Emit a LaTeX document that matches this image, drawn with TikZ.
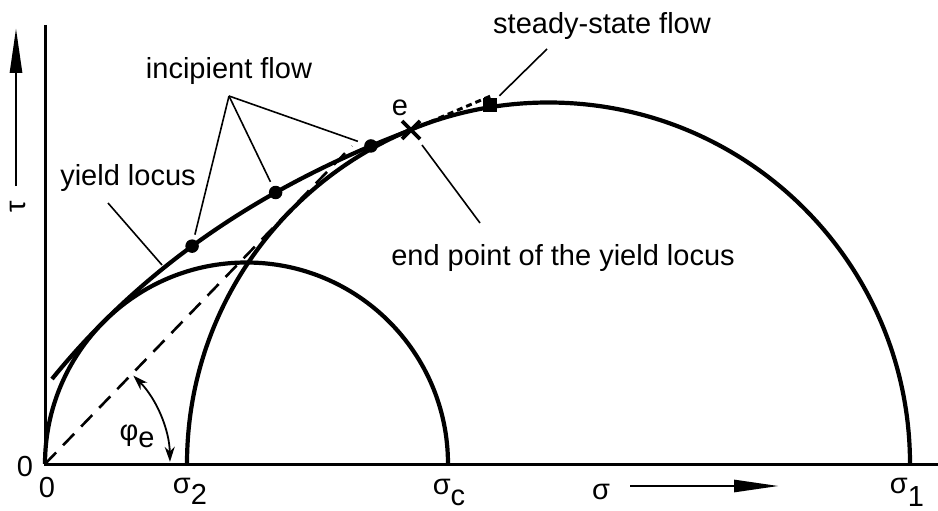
\documentclass[tikz,border=0pt]{standalone}
\usepackage{fontspec}
\setmainfont{Liberation Sans}
\usetikzlibrary{arrows.meta}
\begin{document}
\begin{tikzpicture}[x=1pt,y=-1pt,
  lbl/.style={font=\fontsize{29}{34}\selectfont, inner sep=0pt, anchor=base},
  curve/.style={line width=4.2pt},
  axis/.style={line width=3pt},
  leader/.style={line width=1.6pt},
  dotm/.style={circle, fill=black, inner sep=0pt, minimum size=13.5pt},
  sqm/.style={rectangle, fill=black, inner sep=0pt, minimum size=14pt},
  bigarrow/.style={line width=2.8pt, -{Triangle[length=45pt,width=12pt]}},
  angarrow/.style={line width=1.8pt, {Stealth[length=15pt,width=10pt]}-{Stealth[length=15pt,width=10pt]}},
  tangent/.style={line width=2.6pt, dash pattern=on 16pt off 10pt},
  extdash/.style={line width=3pt, dash pattern=on 6pt off 4pt}]
\useasboundingbox (0,0) rectangle (938,511);
% axes
\coordinate (O) at (45,464);
\coordinate (ytop) at (45,25);
\coordinate (xend) at (938,464);
\draw[axis] (ytop) -- (O) -- (xend);
% Mohr circles
\coordinate (s2) at (187,464);
\draw[curve] (O) arc[start angle=180, end angle=0, radius=201.5pt] coordinate (sc);
\draw[curve] (s2) arc[start angle=180, end angle=0, radius=361.5pt] coordinate (s1);
% tangent dashed line
\coordinate (tend) at (352,146);
\draw[tangent] (O) -- (tend);
% yield locus
\coordinate (ys) at (52,379);
\coordinate (e) at (411,130);
\draw[curve] (ys) .. controls (140.7,269.7) and (259.7,186.7) .. (e)
  node[dotm, pos=0.455] (d1) {}
  node[dotm, pos=0.68] (d2) {}
  node[dotm, pos=0.91] (d3) {};
% extension to steady state
\coordinate (extend) at (493,95);
\draw[extdash] (e) -- (extend);
\node[sqm] (ss) at (490,105) {};
% end point cross
\draw[line width=3.6pt] (402,121) -- (420,139) (402,139) -- (420,121);
% angle
\draw[angarrow] ([shift={(1:125pt)}]O) arc[start angle=1, end angle=45, radius=125pt];
% arrows
\coordinate (tauA) at (16,186);
\coordinate (tauB) at (16,28);
\draw[bigarrow] (tauA) -- (tauB);
\coordinate (sigA) at (630,486);
\coordinate (sigB) at (779,486);
\draw[bigarrow] (sigA) -- (sigB);
% labels
\node[lbl] (inc) at (229,79) {incipient flow};
\node[lbl] (yl) at (128,185) {yield locus};
\node[lbl] (ssf) at (602,34) {steady-state flow};
\node[lbl] (epl) at (563,265) {end point of the yield locus};
\node[lbl] (el) at (400,115) {e};
\node[lbl, rotate=90, anchor=center] (tau) at (18,207) {τ};
\node[lbl] (z1) at (25,476) {0};
\node[lbl] (z2) at (47,497) {0};
\node[lbl] (sig2) at (190,493) {σ\raisebox{-11pt}{2}};
\node[lbl] (sigc) at (449,494) {σ\raisebox{-11pt}{c}};
\node[lbl] (sig1) at (907,493) {σ\raisebox{-13pt}{1}};
\node[lbl] (sig) at (601,499) {σ};
\node[lbl] (phi) at (137,440) {φ\raisebox{-7pt}{e}};
% leaders
\coordinate (apex) at (229,96);
\draw[leader, shorten >=3pt] (apex) -- (d1);
\draw[leader, shorten >=3pt] (apex) -- (d2);
\draw[leader, shorten >=5pt] (apex) -- (d3);
\coordinate (ylA) at (108,203);
\coordinate (ylB) at (162,265);
\draw[leader] (ylA) -- (ylB);
\coordinate (ssA) at (547,49);
\draw[leader, shorten >=3pt] (ssA) -- (ss);
\coordinate (epA) at (422,145);
\coordinate (epB) at (480,223);
\draw[leader] (epA) -- (epB);
\end{tikzpicture}
\end{document}
